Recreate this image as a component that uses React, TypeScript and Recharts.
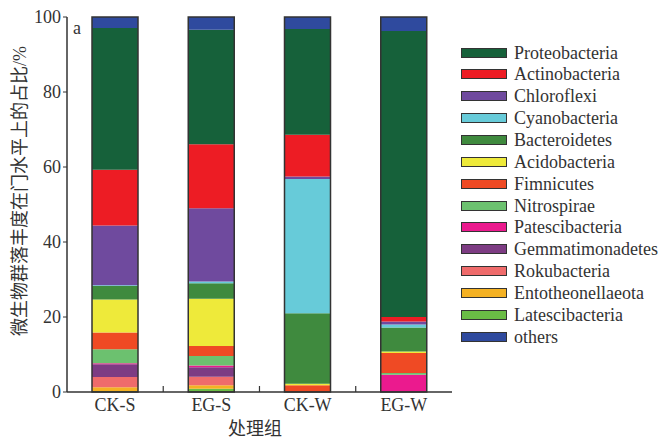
import { Bar, BarChart, XAxis, YAxis, Label } from "recharts"

const categories = ["CK-S", "EG-S", "CK-W", "EG-W"]

// stacked bottom -> top
const latescibacteria = [0.3, 0.9, 0, 0]
const entotheonellaeota = [1.0, 0.9, 0, 0]
const rokubacteria = [2.7, 2.3, 0, 0]
const gemmatimonadetes = [3.4, 2.5, 0, 0]
const patescibacteria = [0.3, 0.5, 0, 4.6]
const nitrospirae = [3.7, 2.5, 0, 0.5]
const fimnicutes = [4.5, 2.7, 1.8, 5.3]
const acidobacteria = [8.8, 12.6, 0.4, 0.4]
const bacteroidetes = [3.6, 4.1, 18.8, 6.4]
const cyanobacteria = [0.2, 0.5, 35.8, 0.8]
const chloroflexi = [15.9, 19.5, 0.7, 0.8]
const actinobacteria = [14.9, 17.1, 11.1, 1.2]
const proteobacteria = [37.8, 30.5, 28.2, 76.3]
const others = [2.9, 3.4, 3.2, 3.7]

const yTicks = [0, 20, 40, 60, 80, 100]

const series = [
  { key: "Latescibacteria", values: latescibacteria, color: "#6abd45" },
  { key: "Entotheonellaeota", values: entotheonellaeota, color: "#f4b123" },
  { key: "Rokubacteria", values: rokubacteria, color: "#ef6b6b" },
  { key: "Gemmatimonadetes", values: gemmatimonadetes, color: "#7d3c83" },
  { key: "Patescibacteria", values: patescibacteria, color: "#eb1a8e" },
  { key: "Nitrospirae", values: nitrospirae, color: "#6cc16f" },
  { key: "Fimnicutes", values: fimnicutes, color: "#ef4a24" },
  { key: "Acidobacteria", values: acidobacteria, color: "#eeea3a" },
  { key: "Bacteroidetes", values: bacteroidetes, color: "#3f8a3e" },
  { key: "Cyanobacteria", values: cyanobacteria, color: "#67cbd9" },
  { key: "Chloroflexi", values: chloroflexi, color: "#6f4a9e" },
  { key: "Actinobacteria", values: actinobacteria, color: "#ed1c24" },
  { key: "Proteobacteria", values: proteobacteria, color: "#16613a" },
  { key: "others", values: others, color: "#2f4a9e" },
]

const legendOrder = [
  "Proteobacteria", "Actinobacteria", "Chloroflexi", "Cyanobacteria", "Bacteroidetes",
  "Acidobacteria", "Fimnicutes", "Nitrospirae", "Patescibacteria", "Gemmatimonadetes",
  "Rokubacteria", "Entotheonellaeota", "Latescibacteria", "others",
]

const data = categories.map((name, i) => {
  const row: Record<string, number | string> = { name }
  let total = 0
  series.forEach((s) => {
    row[s.key] = s.values[i]
    total += s.values[i]
  })
  row.total = total
  return row
})

const FONT = "Liberation Serif, Noto Sans CJK SC, serif"
const INK = "#333"
const W = 664
const H = 439
const PLOT_BOTTOM = 392

const XTick = ({ x, payload, index }: any) => (
  <g>
    <text x={x} y={405} textAnchor="middle" dominantBaseline="central"
      fontSize={18} fontFamily={FONT} fill={INK}>
      {payload.value}
    </text>
    {index < categories.length - 1 && (
      <line x1={x + 48.1} x2={x + 48.1} y1={PLOT_BOTTOM - 6} y2={PLOT_BOTTOM} stroke={INK} strokeWidth={1.2} />
    )}
  </g>
)

export default function App() {
  return (
    <div style={{ position: "absolute", left: 0, top: 0, width: W, height: H, background: "#fff" }}>
      <BarChart width={W} height={H} data={data} margin={{ top: 17, right: 212, left: 0, bottom: 0 }}>
        <XAxis dataKey="name" height={47} tickLine={false} axisLine={{ stroke: INK, strokeWidth: 1.5 }}
          tick={<XTick />} interval={0}>
          <Label content={() => (
            <text x={255} y={429} textAnchor="middle" dominantBaseline="central"
              fontSize={18} fontFamily={FONT} fill={INK}>处理组</text>
          )} />
        </XAxis>
        <XAxis xAxisId="top" dataKey="name" orientation="top" height={0} tick={false} tickLine={false}
          axisLine={{ stroke: INK, strokeWidth: 1.5 }} />
        <YAxis domain={[0, 100]} ticks={yTicks} width={67} tickSize={4} tickMargin={2}
          axisLine={{ stroke: INK, strokeWidth: 1.5 }} tickLine={{ stroke: INK }}
          tick={{ fill: INK, fontSize: 18, fontFamily: FONT }}>
          <Label content={() => (
            <text x={20} y={191} transform="rotate(-90 20 191)" textAnchor="middle" dominantBaseline="central"
              fontSize={18} fontFamily={FONT} fill={INK}>微生物群落丰度在门水平上的占比/%</text>
          )} />
        </YAxis>
        <YAxis yAxisId="right" orientation="right" domain={[0, 100]} width={0} tick={false} tickLine={false}
          axisLine={{ stroke: INK, strokeWidth: 1.5 }} />
        {series.map((s) => (
          <Bar key={s.key} dataKey={s.key} stackId="a" fill={s.color} barSize={46} isAnimationActive={false} />
        ))}
        <Bar xAxisId="top" dataKey="total" fill="none" stroke={INK} strokeWidth={1.5} barSize={46}
          isAnimationActive={false} />
      </BarChart>
      <div style={{ position: "absolute", left: 77, top: 28, transform: "translate(-50%, -50%)",
        fontFamily: FONT, fontSize: 18, color: INK }}>a</div>
      <div style={{ position: "absolute", left: 461, top: 41.7, fontFamily: FONT, fontSize: 18, color: INK }}>
        {legendOrder.map((name) => {
          const s = series.find((x) => x.key === name)!
          return (
            <div key={name} style={{ height: 21.85, display: "flex", alignItems: "center" }}>
              <span style={{ width: 46, height: 10, boxSizing: "border-box", border: `1.2px solid ${INK}`,
                background: s.color, marginRight: 7, flexShrink: 0 }} />
              <span style={{ lineHeight: 1, whiteSpace: "nowrap" }}>{name}</span>
            </div>
          )
        })}
      </div>
    </div>
  )
}
